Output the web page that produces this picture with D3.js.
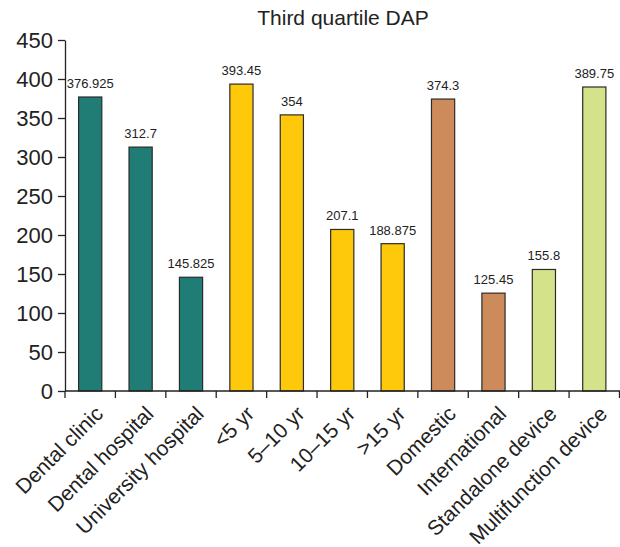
<!DOCTYPE html>
<html>
<head>
<meta charset="utf-8">
<script src="https://cdn.jsdelivr.net/npm/d3@7"></script>
<style>
  body { margin: 0; background: #fff; }
  text { font-family: Arial, "Liberation Sans", sans-serif; fill: #222; }
</style>
</head>
<body>
<svg id="chart" width="620" height="547"></svg>
<script>
// Third quartile DAP by facility, device age, manufacturer and device type
const categories = ["Dental clinic", "Dental hospital", "University hospital", "<5 yr", "5\u201310 yr", "10\u201315 yr", ">15 yr", "Domestic", "International", "Standalone device", "Multifunction device"];
const values = [376.925, 312.7, 145.825, 393.45, 354, 207.1, 188.875, 374.3, 125.45, 155.8, 389.75];
const valueLabels = ["376.925", "312.7", "145.825", "393.45", "354", "207.1", "188.875", "374.3", "125.45", "155.8", "389.75"];
const groups = ["facility", "facility", "facility", "age", "age", "age", "age", "origin", "origin", "type", "type"];
const groupColors = { facility: "#1f7d75", age: "#ffc90b", origin: "#cd8b5c", type: "#d4e28a" };
const yTicks = [0, 50, 100, 150, 200, 250, 300, 350, 400, 450];

const svg = d3.select("#chart");
const margin = { left: 65, right: 0, top: 40, bottom: 156 };
const W = 620, H = 547;
const xEnd = 619.5;

const x = d3.scaleBand().domain(categories).range([margin.left, xEnd]).paddingInner(0.54).paddingOuter(0.27);
const y = d3.scaleLinear().domain([0, 450]).range([H - margin.bottom, margin.top]);

// title
svg.append("text")
  .attr("x", 343).attr("y", 25)
  .attr("text-anchor", "middle")
  .style("font-size", "21px")
  .text("Third quartile DAP");

// bars
svg.append("g").selectAll("rect")
  .data(values)
  .join("rect")
  .attr("x", (d, i) => x(categories[i]))
  .attr("y", d => y(d))
  .attr("width", x.bandwidth())
  .attr("height", d => y(0) - y(d))
  .attr("fill", (d, i) => groupColors[groups[i]])
  .attr("stroke", "#2b2b2b")
  .attr("stroke-width", 1.2);

// value labels
svg.append("g").selectAll("text")
  .data(values)
  .join("text")
  .attr("x", (d, i) => x(categories[i]) + x.bandwidth() / 2)
  .attr("y", d => y(d) - 9)
  .attr("text-anchor", "middle")
  .style("font-size", "13px")
  .text((d, i) => valueLabels[i]);

// y axis
const yAxis = d3.axisLeft(y).tickValues(yTicks).tickSize(7).tickPadding(5).tickSizeOuter(0);
const gy = svg.append("g").attr("transform", `translate(${margin.left},0)`).call(yAxis);
gy.select(".domain").attr("stroke", "#222").attr("stroke-width", 1.3);
gy.selectAll(".tick line").attr("stroke", "#222").attr("stroke-width", 1.3);
gy.selectAll(".tick text").style("font-size", "22px").attr("fill", "#222").style("font-family", "Arial, 'Liberation Sans', sans-serif");

// x axis: baseline with ticks between bars
const xBase = y(0);
svg.append("line")
  .attr("x1", margin.left).attr("x2", 620)
  .attr("y1", xBase).attr("y2", xBase)
  .attr("stroke", "#222").attr("stroke-width", 1.3);
svg.append("g").selectAll("line")
  .data(d3.range(categories.length + 1))
  .join("line")
  .attr("x1", i => margin.left + i * (xEnd - margin.left) / categories.length)
  .attr("x2", i => margin.left + i * (xEnd - margin.left) / categories.length)
  .attr("y1", xBase).attr("y2", xBase + 7)
  .attr("stroke", "#222").attr("stroke-width", 1.3);

// rotated category labels
svg.append("g").selectAll("text")
  .data(categories)
  .join("text")
  .attr("transform", d => `translate(${x(d) + x.bandwidth() / 2 + 3},${xBase + 13}) rotate(-45)`)
  .attr("text-anchor", "end")
  .attr("dy", "0.75em")
  .style("font-size", "21px")
  .text(d => d);
</script>
</body>
</html>
